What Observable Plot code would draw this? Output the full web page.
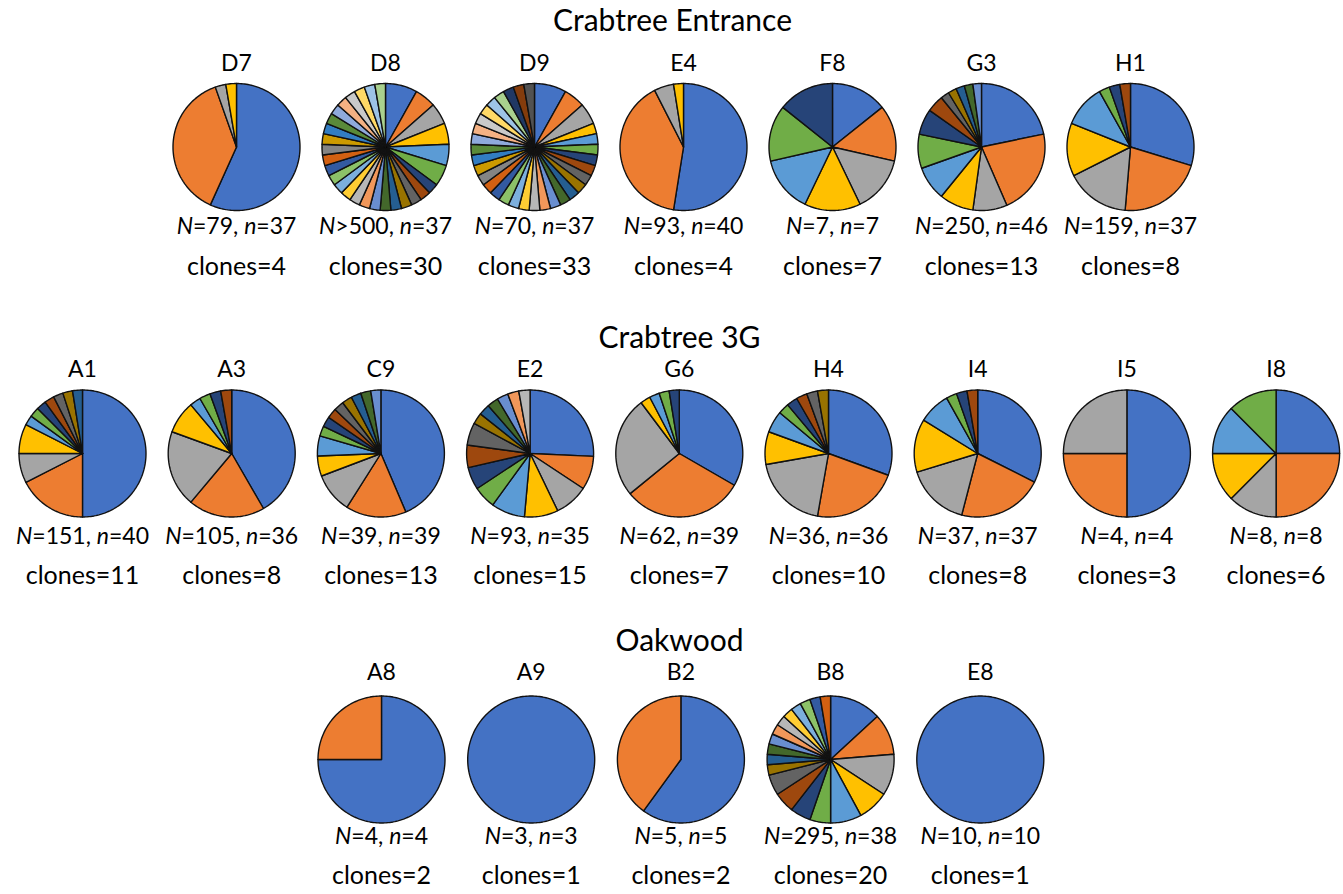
<!DOCTYPE html>
<html><head><meta charset="utf-8">
<script src="https://cdn.jsdelivr.net/npm/d3@7"></script>
<script src="https://cdn.jsdelivr.net/npm/@observablehq/plot@0.6"></script>
<style>body{margin:0;background:#fff;} #chart svg{display:block}</style>
</head><body><div id="chart"></div>
<script>
// ---------- data ----------
const sectionTitles = ["Crabtree Entrance", "Crabtree 3G", "Oakwood"];

const entranceSites = ["D7", "D8", "D9", "E4", "F8", "G3", "H1"];
const entranceN = ["=79", ">500", "=70", "=93", "=7", "=250", "=159"];
const entranceSampled = [37, 37, 37, 40, 7, 46, 37];
const entranceClones = [4, 30, 33, 4, 7, 13, 8];
const entranceCounts = [
  [21, 14, 1, 1],
  [3, 2, 2, 2, 2, 2, 1, 1, 1, 1, 1, 1, 1, 1, 1, 1, 1, 1, 1, 1, 1, 1, 1, 1, 1, 1, 1, 1, 1, 1],
  [3, 2, 2, 1, 1, 1, 1, 1, 1, 1, 1, 1, 1, 1, 1, 1, 1, 1, 1, 1, 1, 1, 1, 1, 1, 1, 1, 1, 1, 1, 1, 1, 1],
  [21, 16, 2, 1],
  [1, 1, 1, 1, 1, 1, 1],
  [10, 10, 4, 4, 4, 4, 3, 2, 1, 1, 1, 1, 1],
  [11, 8, 6, 5, 4, 1, 1, 1]
];

const g3Sites = ["A1", "A3", "C9", "E2", "G6", "H4", "I4", "I5", "I8"];
const g3N = ["=151", "=105", "=39", "=93", "=62", "=36", "=37", "=4", "=8"];
const g3Sampled = [40, 36, 39, 35, 39, 36, 37, 4, 8];
const g3Clones = [11, 8, 13, 15, 7, 10, 8, 3, 6];
const g3Counts = [
  [20, 7, 3, 3, 1, 1, 1, 1, 1, 1, 1],
  [15, 7, 7, 3, 1, 1, 1, 1],
  [17, 6, 4, 2, 2, 1, 1, 1, 1, 1, 1, 1, 1],
  [9, 3, 3, 3, 3, 2, 2, 2, 2, 1, 1, 1, 1, 1, 1],
  [13, 12, 10, 1, 1, 1, 1],
  [11, 8, 7, 3, 2, 1, 1, 1, 1, 1],
  [12, 8, 6, 5, 3, 1, 1, 1],
  [2, 1, 1],
  [2, 2, 1, 1, 1, 1]
];

const oakSites = ["A8", "A9", "B2", "B8", "E8"];
const oakN = ["=4", "=3", "=5", "=295", "=10"];
const oakSampled = [4, 3, 5, 38, 10];
const oakClones = [2, 1, 2, 20, 1];
const oakCounts = [
  [3, 1],
  [3],
  [3, 2],
  [5, 4, 4, 3, 3, 2, 2, 2, 2, 1, 1, 1, 1, 1, 1, 1, 1, 1, 1, 1],
  [10]
];

// Excel-like series palette (styles)
const palette = ["#4472C4","#ED7D31","#A5A5A5","#FFC000","#5B9BD5","#70AD47",
  "#264478","#9E480E","#636363","#997300","#255E91","#43682B",
  "#698ED0","#F1975A","#B7B7B7","#FFCD33","#7CAFDD","#8CC168",
  "#335AA1","#D26012","#848484","#CC9A00","#327DC2","#5A8A39",
  "#8FAADC","#F4B183","#C9C9C9","#FFD966","#9DC3E6","#A9D18E",
  "#203864","#843C0C","#525252"];

// ---------- layout ----------
const W = 1343, H = 894, R = 63.5;
const rows = [
  {sites: entranceSites, N: entranceN, n: entranceSampled, clones: entranceClones, counts: entranceCounts,
   x0: 236, step: 149, cy: 146.5, titleX: 672, titleY: 21, labelY: 63, nY: 226, clonesY: 266},
  {sites: g3Sites, N: g3N, n: g3Sampled, clones: g3Clones, counts: g3Counts,
   x0: 82, step: 149.2, cy: 453, titleX: 679, titleY: 338, labelY: 369, nY: 536, clonesY: 575},
  {sites: oakSites, N: oakN, n: oakSampled, clones: oakClones, counts: oakCounts,
   x0: 381, step: 149.7, cy: 759, titleX: 679, titleY: 641, labelY: 672, nY: 836, clonesY: 875}
];

const sites = [];
const points = [];
rows.forEach((row, r) => {
  row.sites.forEach((name, i) => {
    const cx = row.x0 + i * row.step, cy = row.cy;
    sites.push({name, cx, cy, row: r,
      nText: "N" + row.N[i] + ", n=" + row.n[i],
      cText: "clones=" + row.clones[i]});
    const counts = row.counts[i];
    const total = d3.sum(counts);
    let cum = 0;
    counts.forEach((c, k) => {
      const a0 = 2 * Math.PI * cum / total;
      cum += c;
      const a1 = 2 * Math.PI * cum / total;
      const key = name + "-" + k;
      const full = c === total;
      const steps = Math.max(2, Math.ceil((a1 - a0) / (Math.PI / 120)));
      if (!full) points.push({key, ci: k, x: cx, y: cy});
      for (let s = 0; s <= steps; s++) {
        const a = a0 + (a1 - a0) * s / steps;
        points.push({key, ci: k, x: cx + R * Math.sin(a), y: cy - R * Math.cos(a)});
      }
      if (!full) points.push({key, ci: k, x: cx, y: cy});
    });
  });
});

const FONT = "Lato, 'Open Sans', sans-serif";

const plot = Plot.plot({
  width: W, height: H, margin: 0,
  x: {domain: [0, W], range: [0, W], axis: null},
  y: {domain: [0, H], range: [0, H], axis: null},
  color: {type: "ordinal", domain: d3.range(palette.length), range: palette},
  style: {background: "#fff"},
  marks: [
    Plot.line(points, {x: "x", y: "y", z: "key", fill: "ci", stroke: "#111",
      strokeWidth: 1.4, strokeLinejoin: "round"}),
    Plot.text(sectionTitles, {x: (d, i) => rows[i].titleX, y: (d, i) => rows[i].titleY,
      text: d => d, fontSize: 30, fontFamily: FONT, fill: "#000"}),
    Plot.text(sites, {x: "cx", y: d => rows[d.row].labelY, text: "name",
      fontSize: 23, fontFamily: FONT, fill: "#000"}),
    Plot.text(sites, {x: "cx", y: d => rows[d.row].nY, text: "nText",
      fontSize: 23, fontFamily: FONT, fill: "#000"}),
    Plot.text(sites, {x: "cx", y: d => rows[d.row].clonesY, text: "cText",
      fontSize: 25, fontFamily: FONT, fill: "#000"})
  ]
});

// italicise N and n
plot.querySelectorAll("text").forEach(t => {
  const s = t.textContent;
  if (!/^N[=>]/.test(s)) return;
  const parts = s.split(/([Nn])(?=[=>])/);
  t.textContent = "";
  parts.forEach((p, j) => {
    if (!p) return;
    const ts = document.createElementNS("http://www.w3.org/2000/svg", "tspan");
    ts.textContent = p;
    if (j % 2 === 1) ts.setAttribute("font-style", "italic");
    t.appendChild(ts);
  });
});

document.getElementById("chart").appendChild(plot);
</script>
</body></html>
